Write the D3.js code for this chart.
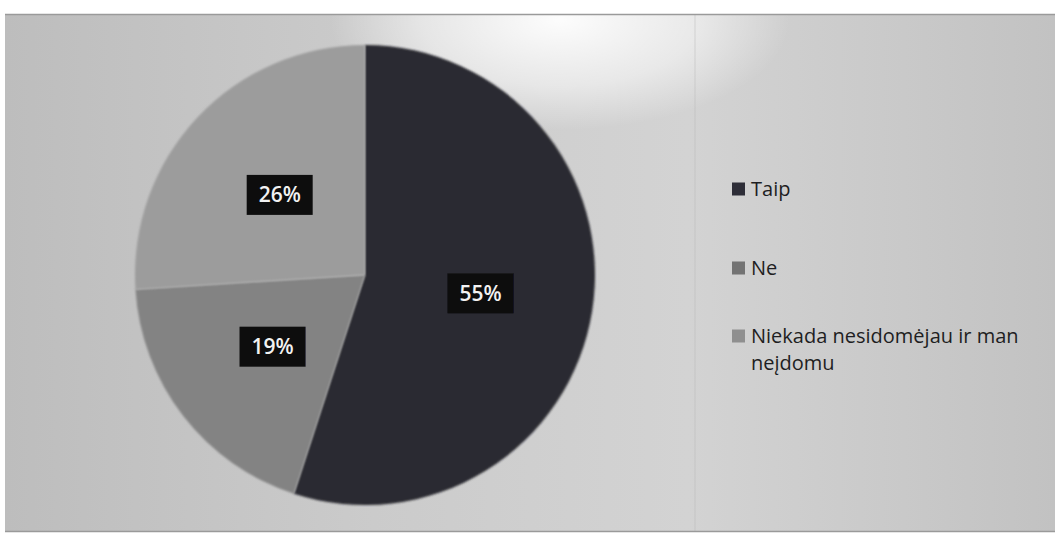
<!DOCTYPE html>
<html><head><meta charset="utf-8">
<script src="https://cdn.jsdelivr.net/npm/d3@7"></script>
<style>html,body{margin:0;padding:0;background:#fff;}svg{display:block;}</style>
</head><body>
<svg id="c" width="1055" height="536"></svg>
<script>
const categories = ["Taip", "Ne", "Niekada nesidomėjau ir man neįdomu"];
const values = [55, 19, 26];
const legendLines = [["Taip"], ["Ne"], ["Niekada nesidomėjau ir man", "neįdomu"]];
const colors = ["#2c2c31", "#838383", "#9c9c9c"];

const svg = d3.select("#c");
const defs = svg.append("defs");
const bg = defs.append("linearGradient").attr("id","bg").attr("x1","0").attr("x2","1").attr("y1","0").attr("y2","0");
bg.append("stop").attr("offset","0").attr("stop-color","#bdbdbd");
bg.append("stop").attr("offset","0.35").attr("stop-color","#cbcbcb");
bg.append("stop").attr("offset","0.65").attr("stop-color","#d3d3d3");
bg.append("stop").attr("offset","1").attr("stop-color","#c2c2c2");
const glare = defs.append("radialGradient").attr("id","gl").attr("cx","0.5").attr("cy","0.5").attr("r","0.5");
glare.append("stop").attr("offset","0").attr("stop-color","#ffffff").attr("stop-opacity",0.95);
glare.append("stop").attr("offset","0.6").attr("stop-color","#ffffff").attr("stop-opacity",0.5);
glare.append("stop").attr("offset","1").attr("stop-color","#ffffff").attr("stop-opacity",0);
defs.append("filter").attr("id","blur").append("feGaussianBlur").attr("stdDeviation",1.2);
defs.append("filter").attr("id","blur2").append("feGaussianBlur").attr("stdDeviation",0.6);

svg.append("rect").attr("x",5).attr("y",14).attr("width",1050).attr("height",518).attr("fill","url(#bg)");
const clip = defs.append("clipPath").attr("id","fr");
clip.append("rect").attr("x",5).attr("y",14).attr("width",1050).attr("height",518);
svg.append("ellipse").attr("clip-path","url(#fr)").attr("cx",560).attr("cy",20).attr("rx",230).attr("ry",110).attr("fill","url(#gl)");
svg.append("line").attr("x1",695).attr("x2",695).attr("y1",14).attr("y2",532).attr("stroke","#b8b8b8").attr("stroke-width",1).attr("opacity",0.5);
svg.append("line").attr("x1",5).attr("x2",1055).attr("y1",14.5).attr("y2",14.5).attr("stroke","#9a9a9a").attr("stroke-width",1.5);
svg.append("line").attr("x1",5).attr("x2",1055).attr("y1",531.5).attr("y2",531.5).attr("stroke","#9a9a9a").attr("stroke-width",1.5);

const cx = 365, cy = 275, R = 230;
const pie = d3.pie().sort(null).value(d => d)(values);
const arc = d3.arc().innerRadius(0).outerRadius(R);
const labelArc = d3.arc().innerRadius(117).outerRadius(117);
const color = d3.scaleOrdinal().domain(categories).range(colors);

const g = svg.append("g").attr("transform",`translate(${cx},${cy})`);
g.selectAll("path").data(pie).join("path")
  .attr("d", arc).attr("fill",(d,i)=>color(categories[i])).attr("filter","url(#blur)");

const lab = g.selectAll("g.lab").data(pie).join("g").attr("class","lab")
  .attr("transform", d => `translate(${labelArc.centroid(d)})`);
lab.append("rect").attr("x",-33).attr("y",-20).attr("width",66).attr("height",40).attr("fill","#0c0c0e").attr("filter","url(#blur2)");
lab.append("text").attr("text-anchor","middle").attr("dy","0.36em")
  .attr("font-family","'Open Sans', sans-serif").attr("font-weight","600").attr("font-size",21)
  .attr("fill","#f2f2f2").text(d => d.value + "%");

const legY = [189, 268, 336];
const leg = svg.append("g");
legendLines.forEach((lines,i) => {
  leg.append("rect").attr("x",732).attr("y",legY[i]-6.5).attr("width",13).attr("height",13)
    .attr("fill", i===0 ? "#2e2e38" : (i===1 ? "#737373" : "#8f8f8f"));
  lines.forEach((t,j) => {
    leg.append("text").attr("x",751).attr("y",legY[i]+ j*27).attr("dy","0.35em")
      .attr("font-family","'Open Sans', sans-serif").attr("font-size",20).attr("fill","#1e1e22").text(t);
  });
});
</script>
</body></html>
